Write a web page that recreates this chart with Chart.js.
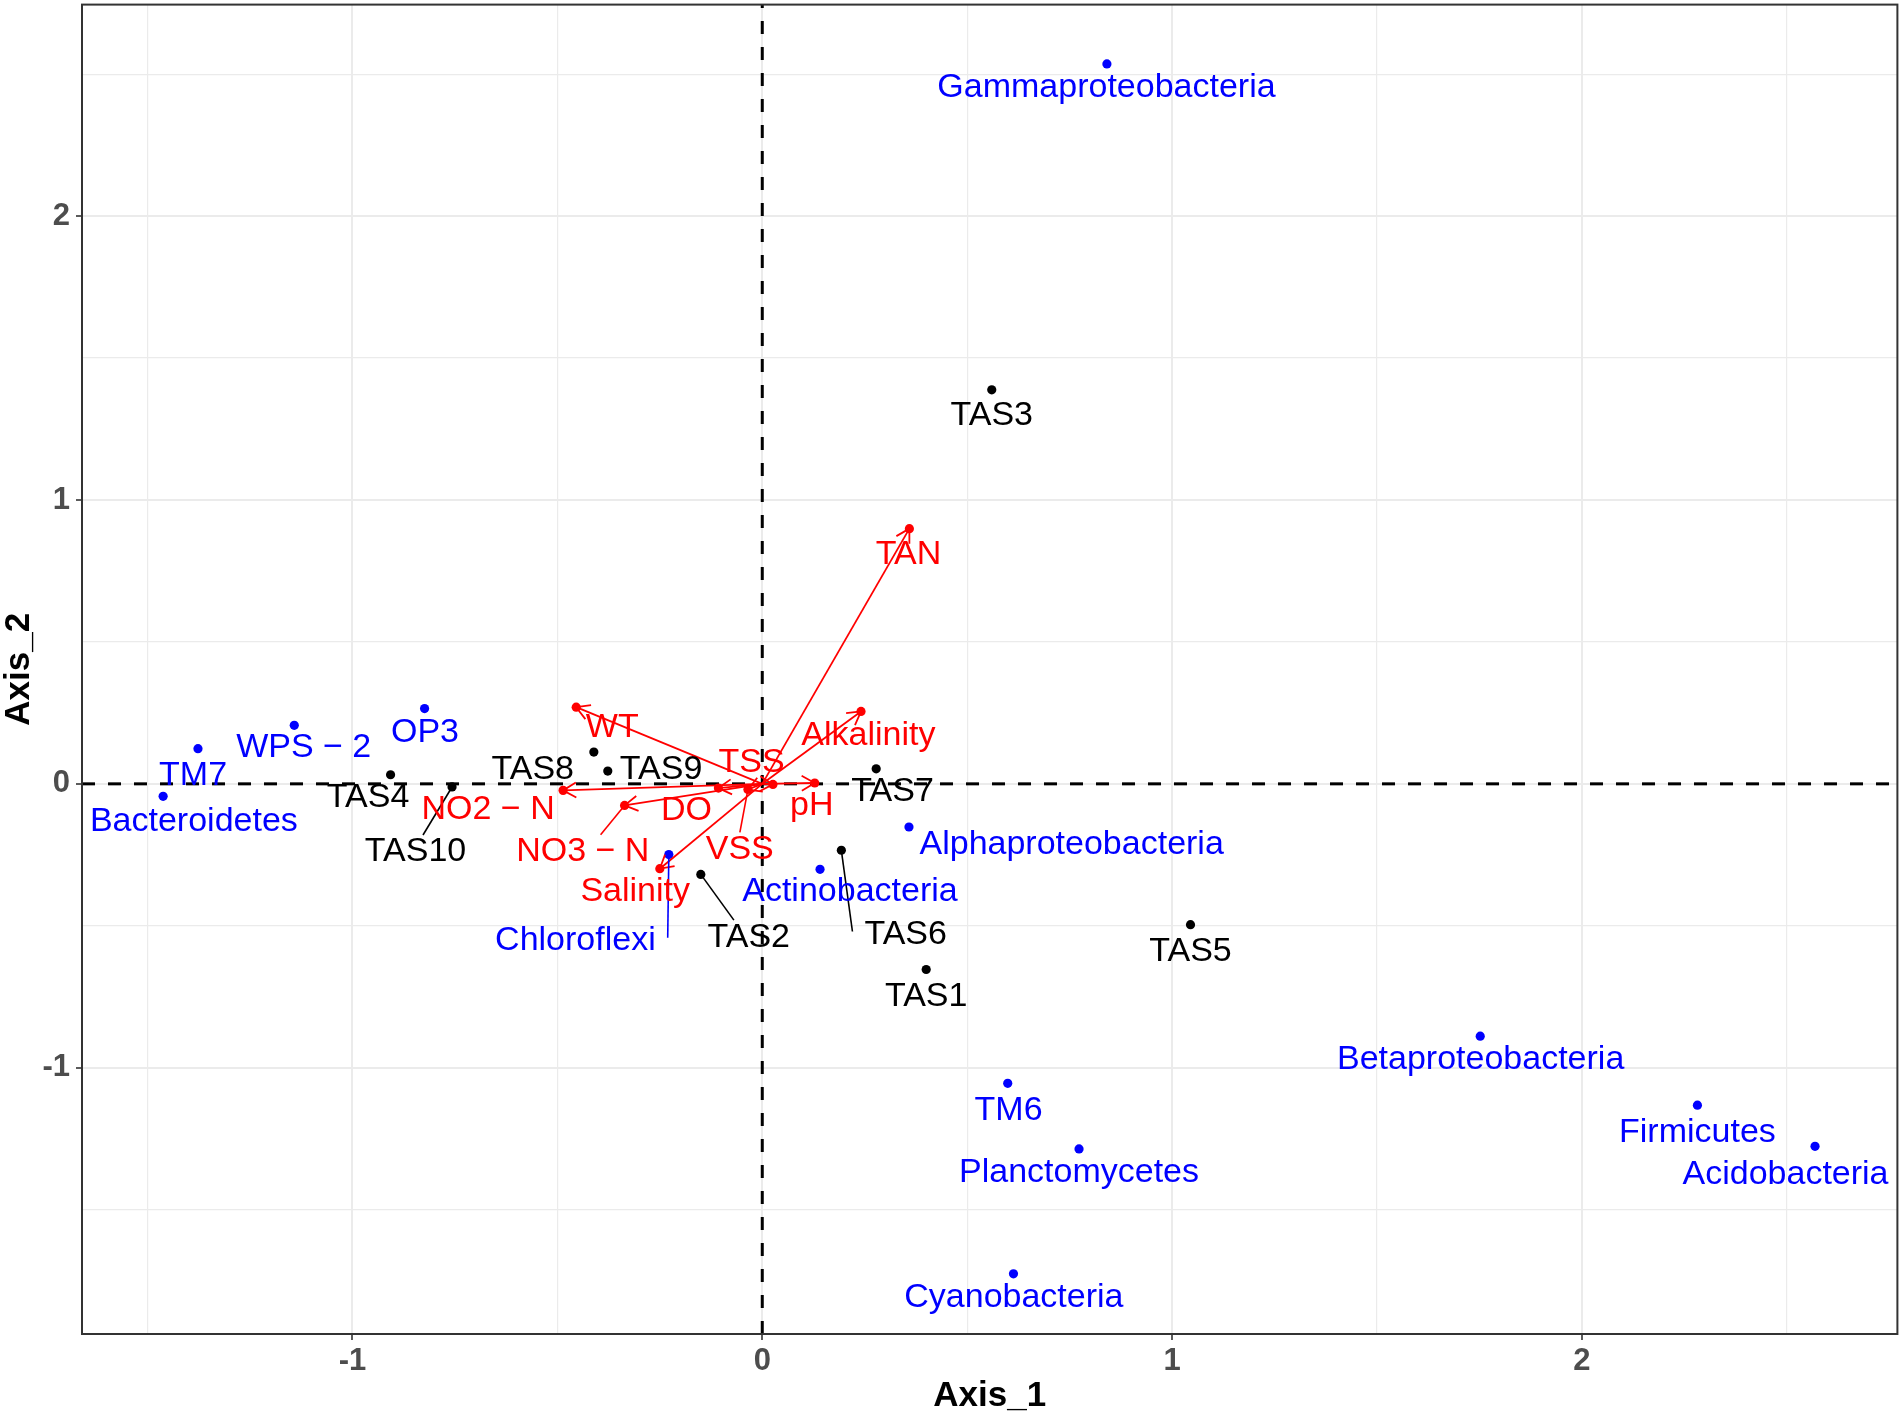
<!DOCTYPE html>
<html>
<head>
<meta charset="utf-8">
<script src="https://cdn.jsdelivr.net/npm/chart.js@4.4.1/dist/chart.umd.min.js"></script>
<style>
  html, body { margin:0; padding:0; background:#fff; }
  #wrap { width:1902px; height:1418px; }
</style>
</head>
<body>
<div id="wrap"><canvas id="c" width="1902" height="1418"></canvas></div>
<script>
// phyla (blue)
const phylaNames = ['Gammaproteobacteria','TM7','Bacteroidetes','WPS \u2212 2','OP3','Alphaproteobacteria','Actinobacteria',
  'Chloroflexi','Betaproteobacteria','TM6','Planctomycetes','Firmicutes','Acidobacteria','Cyanobacteria'];
const phylaX = [0.841, -1.377, -1.462, -1.142, -0.824, 0.358, 0.141, -0.228, 1.752, 0.599, 0.773, 2.282, 2.569, 0.613];
const phylaY = [2.536, 0.124, -0.044, 0.206, 0.265, -0.152, -0.301, -0.249, -0.889, -1.055, -1.286, -1.132, -1.277, -1.726];
const phylaLabX = [0.840, -1.389, -1.387, -1.119, -0.823, 0.755, 0.214, -0.456, 1.753, 0.601, 0.773, 2.282, 2.497, 0.614];
const phylaLabY = [2.454, 0.030, -0.134, 0.127, 0.180, -0.214, -0.378, -0.554, -0.970, -1.150, -1.371, -1.230, -1.375, -1.811];

// samples (black)
const sampleNames = ['TAS1','TAS2','TAS3','TAS4','TAS5','TAS6','TAS7','TAS8','TAS9','TAS10'];
const sampleX = [0.400, -0.150, 0.560, -0.907, 1.045, 0.193, 0.278, -0.411, -0.377, -0.757];
const sampleY = [-0.654, -0.319, 1.388, 0.032, -0.496, -0.234, 0.053, 0.112, 0.045, -0.011];
const sampleLabX = [0.400, -0.033, 0.560, -0.962, 1.045, 0.350, 0.318, -0.560, -0.247, -0.846];
const sampleLabY = [-0.748, -0.540, 1.298, -0.049, -0.590, -0.532, -0.029, 0.051, 0.051, -0.240];

// environmental vectors (red)
const envNames = ['TAN','WT','Alkalinity','TSS','pH','NO2 \u2212 N','DO','NO3 \u2212 N','VSS','Salinity'];
const envX = [0.359, -0.454, 0.241, 0.026, 0.128, -0.486, -0.107, -0.336, -0.035, -0.250];
const envY = [0.899, 0.270, 0.255, -0.002, 0.003, -0.023, -0.015, -0.076, -0.020, -0.299];
const envLabX = [0.357, -0.366, 0.259, -0.026, 0.121, -0.669, -0.185, -0.438, -0.055, -0.310];
const envLabY = [0.809, 0.199, 0.170, 0.074, -0.076, -0.092, -0.093, -0.239, -0.231, -0.378];

const xTicks = [-1.5, -1, -0.5, 0, 0.5, 1, 1.5, 2, 2.5];
const yTicks = [-1.5, -1, -0.5, 0, 0.5, 1, 1.5, 2, 2.5];
const xMin = -1.66, xMax = 2.77, yMin = -1.938, yMax = 2.745;

const FONT = "'Liberation Sans', Arial, Helvetica, sans-serif";
const BLUE = '#0000FF', RED = '#FF0000', BLACK = '#000000';

const toPts = (xs, ys) => xs.map((v, i) => ({x: v, y: ys[i]}));

const arrowSets = envX.map((v, i) => ({
  isArrow: true,
  data: [{x: 0, y: 0}, {x: v, y: envY[i]}],
  showLine: true,
  borderColor: RED,
  backgroundColor: RED,
  borderWidth: 1.8,
  pointRadius: c => c.dataIndex === 1 ? 4.6 : 0,
  pointBorderWidth: 0,
  order: 1
}));

const datasets = [
  {data: [{x: xMin, y: 0}, {x: xMax, y: 0}], showLine: true, borderColor: BLACK, borderWidth: 3,
   borderDash: [13, 13], pointRadius: 0, order: 9},
  {data: [{x: 0, y: yMin}, {x: 0, y: yMax}], showLine: true, borderColor: BLACK, borderWidth: 3,
   borderDash: [13, 13], pointRadius: 0, order: 9},
  {data: toPts(phylaX, phylaY), backgroundColor: BLUE, pointRadius: 4.6, pointBorderWidth: 0, order: 5},
  {data: toPts(sampleX, sampleY), backgroundColor: BLACK, pointRadius: 4.6, pointBorderWidth: 0, order: 5},
  ...arrowSets
];

// ggrepel-like leader line end point on a label box
function connect(px, py, b) {
  let ox, oy, left = false, right = false, top = false, bottom = false;
  if (px >= b[0] && px <= b[2]) ox = px; else if (px > b[2]) { ox = b[2]; right = true; } else { ox = b[0]; left = true; }
  if (py >= b[1] && py <= b[3]) oy = py; else if (py > b[3]) { oy = b[3]; bottom = true; } else { oy = b[1]; top = true; }
  const mx = (b[0] + b[2]) / 2, my = (b[1] + b[3]) / 2;
  const d = Math.hypot(px - ox, py - oy);
  if ((top || bottom) && !(left || right)) {
    const alt = Math.hypot(px - mx, py - oy);
    ox = ox + (mx - ox) * d / alt;
  } else if ((left || right) && !(top || bottom)) {
    const alt = Math.hypot(px - ox, py - my);
    oy = oy + (my - oy) * d / alt;
  } else if ((left || right) && (top || bottom)) {
    const a1 = Math.hypot(px - mx, py - oy), a2 = Math.hypot(px - ox, py - my);
    if (a1 < a2) ox = ox + (mx - ox) * d / a1; else oy = oy + (my - oy) * d / a2;
  }
  return {x: ox, y: oy, d: d};
}

function drawLabels(ctx, sx, sy, names, xs, ys, lx, ly, color) {
  ctx.save();
  ctx.font = '34px ' + FONT;
  ctx.textAlign = 'center';
  ctx.textBaseline = 'middle';
  names.forEach((n, i) => {
    const px = sx.getPixelForValue(xs[i]), py = sy.getPixelForValue(ys[i]);
    const cx = sx.getPixelForValue(lx[i]), cy = sy.getPixelForValue(ly[i]);
    const w = ctx.measureText(n).width + 24, h = 34;
    const box = [cx - w / 2, cy - h / 2, cx + w / 2, cy + h / 2];
    const e = connect(px, py, box);
    if (e.d > 20) {
      ctx.strokeStyle = color; ctx.lineWidth = 1.6;
      ctx.beginPath(); ctx.moveTo(px, py); ctx.lineTo(e.x, e.y); ctx.stroke();
    }
    ctx.fillStyle = color;
    ctx.fillText(n, cx, cy);
  });
  ctx.restore();
}

const overlay = {
  id: 'overlay',
  beforeDraw(chart) {
    const {ctx, width, height} = chart;
    ctx.save(); ctx.fillStyle = '#FFFFFF'; ctx.fillRect(0, 0, width, height); ctx.restore();
  },
  afterDatasetsDraw(chart) {
    const {ctx, chartArea: a, scales: {x, y}} = chart;
    // arrow heads
    chart.data.datasets.forEach((ds, i) => {
      if (!ds.isArrow) return;
      const pts = chart.getDatasetMeta(i).data;
      const p0 = pts[0], p1 = pts[1];
      const ang = Math.atan2(p1.y - p0.y, p1.x - p0.x);
      ctx.save();
      ctx.strokeStyle = RED; ctx.lineWidth = 1.8;
      ctx.beginPath();
      [-1, 1].forEach(s => {
        ctx.moveTo(p1.x, p1.y);
        ctx.lineTo(p1.x - 15 * Math.cos(ang + s * Math.PI / 6), p1.y - 15 * Math.sin(ang + s * Math.PI / 6));
      });
      ctx.stroke();
      ctx.restore();
    });
    drawLabels(ctx, x, y, sampleNames, sampleX, sampleY, sampleLabX, sampleLabY, BLACK);
    drawLabels(ctx, x, y, phylaNames, phylaX, phylaY, phylaLabX, phylaLabY, BLUE);
    drawLabels(ctx, x, y, envNames, envX, envY, envLabX, envLabY, RED);
    // panel border
    ctx.save();
    ctx.strokeStyle = '#333333'; ctx.lineWidth = 2;
    ctx.strokeRect(a.left, a.top, a.right - a.left, a.bottom - a.top);
    ctx.restore();
  }
};

const isMajor = v => Number.isInteger(v);

function axis(ticks, min, max, titleText, horizontal) {
  return {
    type: 'linear',
    min: min, max: max,
    afterBuildTicks: s => { s.ticks = ticks.map(v => ({value: v})); },
    afterFit: s => {
      if (horizontal) s.height = 84; else s.width = 82;
      s.paddingTop = 0; s.paddingBottom = 0; s.paddingLeft = 0; s.paddingRight = 0;
    },
    border: {display: false},
    grid: {
      color: '#EBEBEB',
      lineWidth: c => isMajor(c.tick.value) ? 2 : 1.2,
      drawTicks: true,
      tickLength: 6,
      tickWidth: 1.6,
      tickColor: c => isMajor(c.tick.value) ? '#333333' : 'rgba(0,0,0,0)'
    },
    ticks: {
      autoSkip: false,
      maxRotation: 0,
      padding: horizontal ? 3 : 6,
      color: '#4D4D4D',
      font: {family: FONT, size: 31, weight: 'bold'},
      callback: v => isMajor(v) ? String(v) : ''
    },
    title: {
      display: true,
      text: titleText,
      color: '#000000',
      font: {family: FONT, size: 35, weight: 'bold', lineHeight: 1},
      padding: horizontal ? {top: 0, bottom: 4} : {top: 2, bottom: 0}
    }
  };
}

new Chart(document.getElementById('c'), {
  type: 'scatter',
  data: {datasets: datasets},
  options: {
    responsive: false,
    devicePixelRatio: 1,
    animation: false,
    layout: {padding: {top: 4, right: 4, bottom: 0, left: 0}},
    plugins: {legend: {display: false}, tooltip: {enabled: false}},
    scales: {
      x: axis(xTicks, xMin, xMax, 'Axis_1', true),
      y: axis(yTicks, yMin, yMax, 'Axis_2', false)
    }
  },
  plugins: [overlay]
});
</script>
</body>
</html>
